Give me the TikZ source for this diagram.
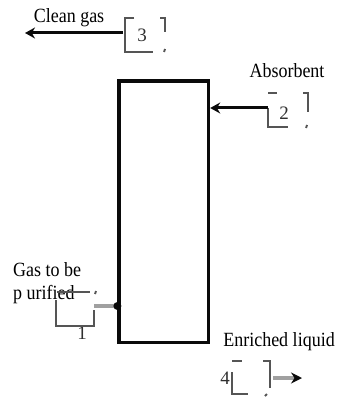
\documentclass[tikz,border=0pt]{standalone}
\usepackage{fontspec}
\setmainfont{Liberation Serif}
\usepackage{xcolor}
\usepackage{tikz}
\usetikzlibrary{arrows.meta,positioning}
\definecolor{towerBlack}{HTML}{0A0A0A}
\definecolor{stubGray}{HTML}{555555}
\definecolor{feedGray}{HTML}{A0A0A0}
\tikzset{
  column/.style={draw=towerBlack, line width=3.3pt, minimum width=89.5pt,
    minimum height=261.5pt, inner sep=0pt},
  flow/.style={-{Stealth[length=10pt, width=11pt]}, line width=3pt,
    draw=towerBlack},
  feed/.style={line width=4pt, draw=feedGray},
  feed out/.style={-{Stealth[length=11pt, width=11pt, color=towerBlack]},
    line width=4pt, draw=feedGray},
  stub/.style={line width=1.9pt, draw=stubGray},
  stream label/.style={font=\fontsize{18}{21}\selectfont, inner sep=0pt,
    yscale=1.12, transform shape},
  stream no/.style={font=\fontsize{19}{21}\selectfont, inner sep=0pt,
    text=towerBlack!85}
}
\begin{document}
\begin{tikzpicture}[x=1pt, y=-1pt]
  \useasboundingbox (0,0) rectangle (340,401);
  % absorber column
  \node[column] (tower) at (163.8,211.7) {};
  % stream numbers
  \node[stream no] (n3) at (142,35) {3};
  \node[stream no] (n2) at (284,113) {2};
  \node[stream no] (n1) at (82,333) {1};
  \node[stream no] (n4) at (225,378) {4};
  % stream names
  \node[stream label] (clean) at (69,18) {Clean gas};
  \node[stream label] (absorb) at (287,71) {Absorbent};
  \node[stream label, align=left, anchor=north west] (raw) at (13,262)
    {Gas to be\\p urified};
  \node[stream label] (rich) at (279,342) {Enriched liquid};
  % broken boxes round the numbers
  \draw[stub] (134,18) -- (125,18) -- (125,52) -- (153,52);
  \draw[stub] (160,18) -- (165,18) -- (165,32);
  \draw[stub] (165,49) -- (164,52);
  \draw[stub] (268,93) -- (277,93);
  \draw[stub] (268,108) -- (268,127) -- (288,127);
  \draw[stub] (303,93) -- (308,93) -- (308,112);
  \draw[stub] (307,125) -- (306,128);
  \draw[stub] (57,292) -- (90,292);
  \draw[stub] (96,291) -- (95,294);
  \draw[stub] (56,300) -- (56,326) -- (94,326) -- (94,310);
  \draw[stub] (232,361) -- (242,361);
  \draw[stub] (232,372) -- (232,394) -- (248,394);
  \draw[stub] (263,361) -- (270,361) -- (270,388);
  \draw[stub] (267,394) -- (265,396);
  % streams
  \coordinate (cleanStart) at (123,33);
  \coordinate (cleanEnd) at (25,33);
  \coordinate (absorbStart) at (268,108);
  \coordinate (rawStart) at (94,306);
  \coordinate (richStart) at (273,378);
  \coordinate (richEnd) at (302,378);
  \draw[flow] (cleanStart) -- (cleanEnd);
  \draw[flow] (absorbStart) -- (absorbStart -| tower.east);
  \draw[feed] (rawStart) -- (rawStart -| tower.west);
  \fill[towerBlack] (rawStart -| tower.west) circle (4pt);
  \draw[feed out] (richStart) -- (richEnd);
\end{tikzpicture}
\end{document}
